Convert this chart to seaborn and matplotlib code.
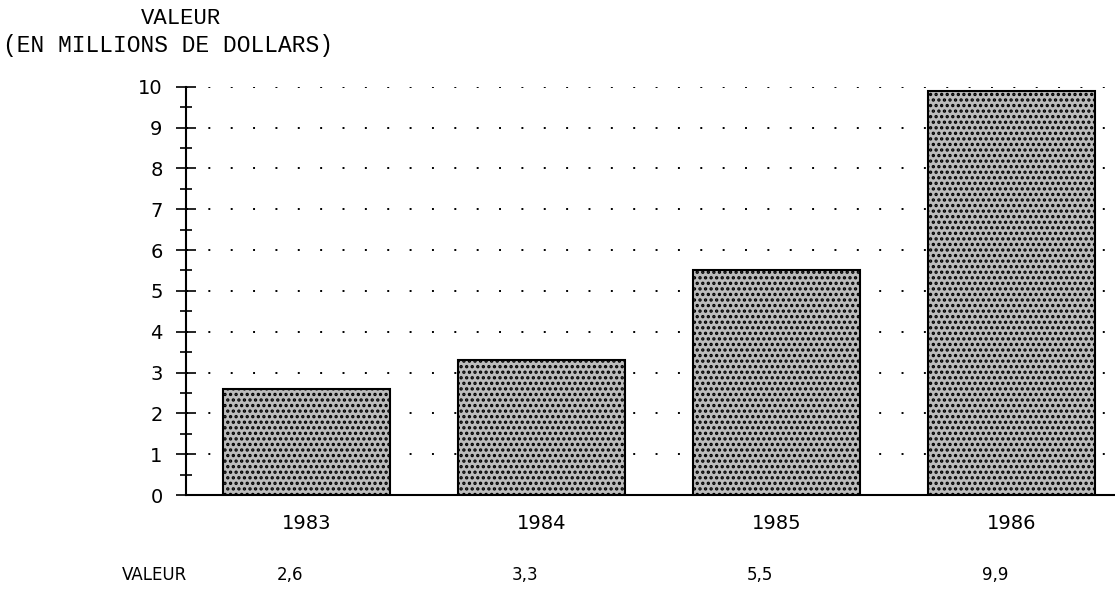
import matplotlib
matplotlib.use("Agg")
import matplotlib.pyplot as plt
import seaborn as sns
import pandas as pd

# Données
annees = ["1983", "1984", "1985", "1986"]
valeurs = [2.6, 3.3, 5.5, 9.9]
etiquettes_valeurs = ["2,6", "3,3", "5,5", "9,9"]

sns.set_theme(style="white")
plt.rcParams["font.family"] = ["DejaVu Sans"]
plt.rcParams["hatch.color"] = "black"
plt.rcParams["hatch.linewidth"] = 1.6
plt.rcParams["text.color"] = "black"
plt.rcParams["xtick.color"] = "black"
plt.rcParams["ytick.color"] = "black"

df = pd.DataFrame({"annee": annees, "valeur": valeurs})

fig = plt.figure(figsize=(11.15, 5.9), dpi=100)
ax = fig.add_axes([0.167, 0.161, 0.833, 0.692])

sns.barplot(data=df, x="annee", y="valeur", ax=ax, color="#bcbcbc",
            edgecolor="black", linewidth=1.5, hatch="...", width=0.71,
            saturation=1, zorder=3)

# Grille en pointillés
for y in range(1, 11):
    ax.axhline(y, color="black", linewidth=1.4, linestyle=(0, (1, 10.5)), zorder=1)

ax.set_xlim(-0.51, 3.44)
ax.set_ylim(0, 10)
ax.set_yticks(range(0, 11))
ax.set_yticks([i + 0.5 for i in range(10)], minor=True)
ax.tick_params(axis="y", which="major", direction="inout", length=14, width=1.2,
               labelsize=14, pad=10, left=True, colors="black")
ax.tick_params(axis="y", which="minor", direction="inout", length=8, width=1.2,
               left=True, colors="black")
ax.tick_params(axis="x", length=0, labelsize=14, pad=14, colors="black")
ax.set_xlabel("")
ax.set_ylabel("")

for s in ["top", "right"]:
    ax.spines[s].set_visible(False)
for s in ["left", "bottom"]:
    ax.spines[s].set_linewidth(1.5)
    ax.spines[s].set_color("black")

# Titre de l'axe
fig.text(0.162, 0.968, "VALEUR", ha="center", va="center",
         family=["Liberation Mono"], fontsize=16)
fig.text(0.151, 0.923, "(EN MILLIONS DE DOLLARS)", ha="center", va="center",
         family=["Liberation Mono"], fontsize=16.5)

# Ligne de valeurs sous le graphique
fig.text(0.139, 0.025, "VALEUR", ha="center", va="center", fontsize=12)
for i, lab in enumerate(etiquettes_valeurs):
    ax.text(i - 0.07, -0.196, lab, transform=ax.get_xaxis_transform(),
            ha="center", va="center", fontsize=12)

fig.savefig("out.png", dpi=100)
